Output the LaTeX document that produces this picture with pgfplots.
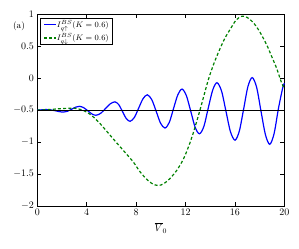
\documentclass[border=0pt]{standalone}
\usepackage{pgfplots}
\pgfplotsset{compat=1.18}
\begin{document}
\begin{tikzpicture}
\begin{axis}[
  scale only axis, width=247bp, height=191.7bp,
  xmin=0, xmax=20, ymin=-2, ymax=1,
  xtick={0,4,8,12,16,20},
  ytick={-2,-1.5,-1,-0.5,0,0.5,1},
  xlabel={$\overline{V}_0$},
  axis line style={line width=0.8pt},
  major tick style={line width=0.6pt, black},
  major tick length=4bp,
  clip=false,
  legend style={at={(rel axis cs:0.011,0.981)}, anchor=north west, font=\footnotesize,
    draw=black, line width=0.8pt, inner xsep=3pt, inner ysep=1pt, row sep=3pt,
    nodes={inner sep=1pt}},
  legend cell align=left,
  legend image code/.code={\draw[#1] plot coordinates {(0cm,0cm) (0.2cm,0cm) (0.4cm,0cm)};},
]
\addplot[blue, line width=1.2pt, smooth] coordinates {
(0,-0.50) (0.35,-0.495) (0.7,-0.49) (1.05,-0.495) (1.4,-0.507) (1.75,-0.522) (2.13,-0.53)
(2.45,-0.517) (2.78,-0.485) (3.10,-0.453) (3.42,-0.44)
(3.75,-0.461) (4.09,-0.51) (4.42,-0.559) (4.75,-0.58)
(5.14,-0.549) (5.52,-0.475) (5.91,-0.401) (6.29,-0.37)
(6.60,-0.415) (6.90,-0.5225) (7.20,-0.630) (7.51,-0.675)
(7.86,-0.614) (8.21,-0.4675) (8.56,-0.321) (8.91,-0.26)
(9.27,-0.336) (9.63,-0.52) (9.98,-0.704) (10.34,-0.78)
(10.69,-0.691) (11.03,-0.475) (11.38,-0.259) (11.72,-0.17)
(12.07,-0.273) (12.43,-0.52) (12.78,-0.767) (13.13,-0.87)
(13.49,-0.753) (13.84,-0.47) (14.20,-0.187) (14.55,-0.07)
(14.92,-0.202) (15.28,-0.52) (15.64,-0.838) (16.01,-0.97)
(16.36,-0.826) (16.71,-0.48) (17.05,-0.134) (17.40,0.01)
(17.76,-0.143) (18.11,-0.5125) (18.47,-0.882) (18.82,-1.035)
(19.17,-0.87) (19.52,-0.48) (19.85,-0.17) (20.0,-0.08)
};
\addlegendentry{$I^{BS}_{q\uparrow}(K=0.6)$}
\addplot[green!50!black, line width=1.2pt, smooth, dash pattern=on 3pt off 2.2pt] coordinates {
(0,-0.50) (1,-0.49) (2,-0.475) (3,-0.47) (3.5,-0.49) (4.0,-0.53) (4.5,-0.60) (5.08,-0.71)
(5.75,-0.86) (6.42,-1.01) (7.1,-1.16) (7.77,-1.31) (8.3,-1.46) (8.85,-1.58) (9.3,-1.65) (9.79,-1.68)
(10.25,-1.65) (10.74,-1.57) (11.3,-1.44) (11.82,-1.27) (12.25,-1.07) (12.63,-0.855) (13.17,-0.5)
(13.84,-0.03) (14.3,0.23) (14.79,0.46) (15.2,0.63) (15.60,0.76) (16.1,0.91) (16.57,0.97)
(17.0,0.95) (17.49,0.87) (18.0,0.73) (18.58,0.52) (19.0,0.33) (19.39,0.15) (19.7,-0.03) (20,-0.17)
};
\addlegendentry{$I^{BS}_{q\downarrow}(K=0.6)$}
\addplot[black, line width=0.9pt, forget plot] coordinates {(0,-0.5) (20,-0.5)};
\node at (axis cs:-1.48,0.817) {\small (a)};
\end{axis}
\path (current axis.south west) ++(-37.3bp,-43bp) coordinate (bbA);
\path (current axis.north east) ++(14.7bp,14.3bp) coordinate (bbB);
\path (bbA) (bbB);
\end{tikzpicture}
\end{document}
